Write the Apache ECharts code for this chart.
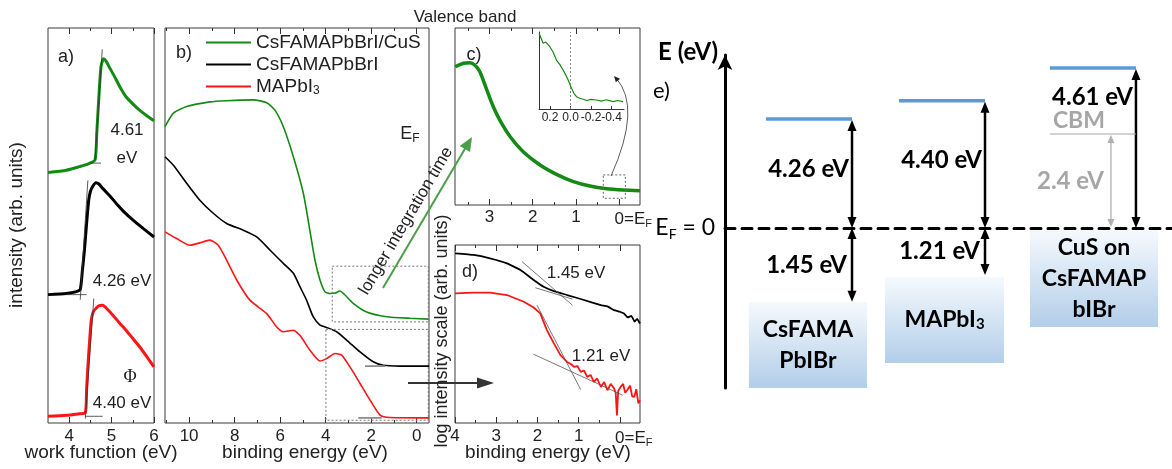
<!DOCTYPE html>
<html><head><meta charset="utf-8">
<script src="https://cdn.jsdelivr.net/npm/echarts@6/dist/echarts.min.js"></script>
<style>html,body{margin:0;padding:0;background:#fff}#c{width:1172px;height:469px}</style>
</head><body><div id="c"></div><script>
// ================= DATA =================
// a) work-function cutoff: [work function (eV), intensity (arb.)]
const wfCuS = [[3.50,63.4],[3.93,64.0],[4.24,64.9],[4.45,65.6],[4.61,66.6],[4.65,73.3],[4.70,82.6],[4.75,90.2],[4.81,92.2],[4.87,91.6],[4.95,90.0],[5.07,87.7],[5.20,85.0],[5.34,82.6],[5.50,80.8],[5.66,79.2],[5.83,77.8],[6.00,76.5]];
const wfMix = [[3.50,32.5],[3.93,32.8],[4.15,33.2],[4.26,33.8],[4.31,38.5],[4.36,43.8],[4.41,50.5],[4.46,56.4],[4.50,58.6],[4.55,59.8],[4.63,60.8],[4.70,60.5],[4.79,59.4],[4.95,57.6],[5.11,55.6],[5.30,53.4],[5.50,51.4],[5.75,49.2],[6.00,47.1]];
const wfMAPbI = [[3.50,1.7],[3.93,1.95],[4.20,2.3],[4.38,2.6],[4.41,8.5],[4.44,14.2],[4.48,20.5],[4.52,26.0],[4.57,28.2],[4.63,29.0],[4.71,29.7],[4.79,29.8],[4.90,28.8],[5.03,27.3],[5.18,25.4],[5.34,23.5],[5.50,21.4],[5.66,19.3],[5.83,16.8],[6.00,14.2]];
const wfTangents = [
  [[4.61,66.6],[4.78,94.6]], [[4.50,65.8],[4.75,65.8]],
  [[4.26,31.2],[4.44,61.4]], [[3.93,32.5],[4.41,32.5]],
  [[4.38,1.1],[4.58,31.5]],  [[4.38,1.7],[4.79,1.7]]
];
const wfTicks = [4,5,6], wfMinor = [4.5,5.5];
const wfLabels = ['4.61\neV','4.26 eV','Φ','4.40 eV'];

// b) valence band: [binding energy (eV), intensity (arb.)]
const vbCuS = [[11.06,75.0],[10.70,78.4],[10.11,80.1],[9.09,81.3],[8.35,81.6],[7.18,81.8],[6.59,81.1],[6.23,79.2],[5.86,75.0],[5.42,67.4],[4.98,58.1],[4.69,48.6],[4.47,41.2],[4.25,36.2],[4.03,33.2],[3.81,32.8],[3.59,32.9],[3.37,33.4],[3.15,32.4],[2.79,30.3],[2.20,28.1],[1.32,26.9],[0.29,26.5],[-0.54,26.3]];
const vbMix = [[11.06,67.4],[10.70,65.3],[10.11,60.7],[9.53,56.4],[8.94,53.1],[8.35,50.5],[7.62,48.8],[7.03,47.1],[6.45,43.8],[5.86,40.4],[5.42,37.9],[5.13,34.5],[4.84,31.1],[4.55,26.9],[4.25,24.8],[3.96,24.2],[3.52,23.1],[3.08,21.0],[2.49,18.0],[1.91,15.5],[1.47,14.6],[0.73,14.4],[-0.54,14.4]];
const vbMAPbI = [[11.06,48.4],[10.55,46.7],[9.97,45.0],[9.53,45.6],[9.09,46.3],[8.72,45.0],[8.35,41.2],[7.91,36.2],[7.33,31.1],[6.59,27.7],[6.15,24.3],[5.86,23.1],[5.42,23.5],[5.13,22.2],[4.69,18.4],[4.25,15.7],[3.96,16.3],[3.59,17.6],[3.30,17.2],[2.93,14.2],[2.49,10.0],[2.05,5.8],[1.61,2.0],[1.17,1.4],[-0.54,1.3]];
const vbZoomBoxCuS = [[3.71,39.7],[-0.51,39.7],[-0.51,25.6],[3.71,25.6],[3.71,39.7]];
const vbZoomBoxLog = [[3.99,23.7],[-0.51,23.7],[-0.51,0.7],[3.99,0.7],[3.99,23.7]];
const vbBaselines = [[[2.27,14.4],[1.39,14.4]], [[2.57,1.3],[1.54,1.3]]];
const vbTicks = [0,2,4,6,8,10], vbMinor = [1,3,5,7,9,11];
const seriesNames = ['CsFAMAPbBrI/CuS','CsFAMAPbBrI','MAPbI3'];

// c) valence band edge of CuS, longer integration
const vbCuSLong = [[3.79,78.1],[3.60,80.1],[3.45,80.4],[3.34,79.1],[3.22,75.3],[3.06,65.0],[2.91,55.5],[2.76,48.0],[2.52,38.6],[2.22,30.1],[1.83,22.6],[1.45,17.3],[1.06,13.2],[0.68,10.7],[0.29,9.2],[-0.09,8.5],[-0.48,8.1]];
const fermiEdge = [[0.306,98.3],[0.267,85.3],[0.240,87.0],[0.202,80.9],[0.170,74.0],[0.137,63.6],[0.105,58.0],[0.072,50.6],[0.045,44.0],[0.023,37.7],[-0.010,26.9],[-0.035,20.0],[-0.059,16.0],[-0.090,14.0],[-0.123,12.6],[-0.160,11.0],[-0.200,12.5],[-0.254,11.7],[-0.300,10.2],[-0.350,12.0],[-0.416,9.5],[-0.460,11.0],[-0.513,9.5]];
const cZoomBox = [[0.37,17],[-0.14,17],[-0.14,3.8],[0.37,3.8],[0.37,17]];
const cTicks = [0,1,2,3], cMinor = [0.5,1.5,2.5,3.5];
const insetTicks = [0.2,0,-0.2,-0.4];

// d) log-scale valence band onset
const logMix = [[4.00,95.3],[3.55,94.4],[3.15,92.5],[2.74,89.7],[2.41,85.9],[2.09,80.3],[1.85,76.5],[1.60,74.1],[1.28,71.9],[0.87,69.1],[0.46,66.2],[0.30,65.5],[0.14,63.4],[0.00,62.5],[-0.10,61.5],[-0.19,59.3],[-0.28,60.2],[-0.36,57.0],[-0.42,58.5],[-0.49,55.9]];
const logMAPbI = [[4.00,72.8],[3.55,73.2],[3.15,73.2],[2.74,71.9],[2.33,68.1],[2.09,64.9],[1.93,61.6],[1.77,52.2],[1.60,44.7],[1.44,38.1],[1.28,34.3],[1.18,33.0],[1.11,31.5],[1.03,32.0],[0.95,28.7],[0.87,29.5],[0.79,25.9],[0.71,27.0],[0.63,23.1],[0.55,25.0],[0.46,20.3],[0.38,23.0],[0.30,18.4],[0.22,22.0],[0.14,19.4],[0.10,17.0],[0.07,4.3],[0.04,18.0],[-0.02,20.3],[-0.08,22.0],[-0.13,17.0],[-0.19,18.8],[-0.25,21.0],[-0.30,15.0],[-0.35,14.6],[-0.40,19.0],[-0.45,11.0],[-0.49,12.8]];
const logTangents = [
  [[2.37,90.6],[1.15,66.2]], [[2.05,76.0],[1.15,69.6]],
  [[2.01,66.2],[0.95,18.8]], [[2.10,38.7],[-0.07,15.6]]
];
const dTicks = [0,1,2,3,4], dMinor = [0.5,1.5,2.5,3.5];
const vbmLabels = ['1.45 eV','1.21 eV'];

// e) energy diagram
const eMaterials = ['CsFAMA\nPbIBr','MAPbI3','CuS on\nCsFAMAP\nbIBr'];
const eWorkFunction = [4.26, 4.40, 4.61];
const eVBM = [1.45, 1.21, null];
const eCuSGap = 2.4;
// schematic (not-to-scale) drawing heights used in the diagram
const eLevelDraw = [4.36, 5.09, 6.40];
const eVbmDraw = [-2.95, -1.88, null];
const eCbmDraw = 3.76;
const eBoxDraw = [[-2.96,-6.4],[-1.96,-5.4],[-0.08,-3.96]];
const eColX = [0.955, 1.955, 3.090];
const eBoxX = [[0.180,1.068],[1.203,2.098],[2.293,3.256]];
const eGapArrowX = 2.902;

// ================= CHART =================
const FONT = 'Liberation Sans';
const FONTCSS = '"Liberation Sans", Arial, sans-serif';
const EFONT = 'Lato, "Open Sans", sans-serif';
const GREEN = '#138a13', RED = '#ff1414', BLACK = '#000';

const grids = [
  {left:48, top:28, width:106, height:395},   // a
  {left:165, top:28, width:264, height:395},  // b
  {left:455, top:28, width:185, height:177},  // c
  {left:539, top:32, width:85, height:77},    // inset
  {left:455, top:245, width:185, height:178}, // d
  {left:725, top:55, width:447, height:333}   // e
].map((g, i) => Object.assign({show: i !== 3 && i !== 5, borderColor:'#3a3a3a', borderWidth:1, backgroundColor:'transparent', outerBoundsMode:'none', containLabel:false}, g));

const xAxes = [];
const subRich = {
  h:{color:'rgba(0,0,0,0)', fontSize:17, fontFamily:FONT, lineHeight:20, verticalAlign:'middle'},
  hs:{color:'rgba(0,0,0,0)', fontSize:11, fontFamily:FONT, lineHeight:20, verticalAlign:'bottom'},
  e:{color:'#222', fontSize:17, fontFamily:FONT, lineHeight:20, verticalAlign:'middle'},
  s:{color:'#222', fontSize:11, fontFamily:FONT, lineHeight:20, verticalAlign:'bottom'}
};
function addX(gi, min, max, inverse, majors, minors, fmt, margin) {
  const idx = xAxes.length;
  const base = {type:'value', gridIndex:gi, min, max, inverse, splitLine:{show:false}, axisLine:{show:false}, axisPointer:{show:false}};
  const tk = (vals, len) => ({show:true, inside:true, length:len, customValues:vals, lineStyle:{color:'#333', width:1}});
  xAxes.push(Object.assign({}, base, {position:'bottom', axisTick:tk(majors,6),
    axisLabel:{show:true, customValues:majors, formatter:fmt, margin, color:'#222', fontSize:17, fontFamily:FONT, rich:subRich}}));
  xAxes.push(Object.assign({}, base, {position:'bottom', axisTick:tk(minors,3), axisLabel:{show:false}}));
  xAxes.push(Object.assign({}, base, {position:'top', axisTick:tk(majors,6), axisLabel:{show:false}}));
  xAxes.push(Object.assign({}, base, {position:'top', axisTick:tk(minors,3), axisLabel:{show:false}}));
  return idx;
}
const efFmt = v => (v === 0 ? '{h|=E}{hs|F}{e|0=E}{s|F}' : String(v));
const xa = addX(0, 3.5, 6.0, false, wfTicks, wfMinor, v => String(v), 5);
const xb = addX(1, -0.54, 11.06, true, vbTicks, vbMinor, v => String(v), 5);
const xc = addX(2, -0.478, 3.795, true, cTicks, cMinor, efFmt, 4);
const xd = addX(4, -0.49, 4.0, true, dTicks, dMinor, efFmt, 5);
const xi = xAxes.length;
xAxes.push({type:'value', gridIndex:3, min:-0.522, max:0.307, inverse:true, splitLine:{show:false},
  axisLine:{show:true, onZero:false, lineStyle:{color:'#333', width:1}},
  axisTick:{show:true, inside:true, length:3, customValues:insetTicks, lineStyle:{color:'#333'}},
  axisLabel:{show:true, customValues:insetTicks, formatter:v => v.toFixed(1), margin:3, fontSize:12, color:'#222', fontFamily:FONT}});
const xe = xAxes.length;
xAxes.push({type:'value', gridIndex:5, min:0, max:3.361, splitLine:{show:false},
  axisLine:{show:true, onZero:true, lineStyle:{color:'#000', width:3, type:[10,7]}},
  axisTick:{show:false}, axisLabel:{show:false}});

const yAxes = [0,1,2,3,4].map(gi => ({type:'value', gridIndex:gi, min:0, max:100, show: gi === 3,
  splitLine:{show:false}, axisTick:{show:false}, axisLabel:{show:false},
  axisLine:{show: gi === 3, onZero:false, lineStyle:{color:'#333', width:1}}}));
yAxes.push({type:'value', gridIndex:5, min:-6.4, max:6.92, splitLine:{show:false}, axisTick:{show:false}, axisLabel:{show:false},
  axisLine:{show:true, onZero:true, symbol:['none','arrow'], symbolSize:[11,15], lineStyle:{color:'#000', width:3}}});

const series = [];
function line(name, data, xi_, yi, color, width, extra) {
  series.push(Object.assign({type:'line', name, data, xAxisIndex:xi_, yAxisIndex:yi, symbol:'none', smooth:0.2,
    lineStyle:{color, width}, itemStyle:{color}, silent:true, z:3}, extra || {}));
}
// a
line('a-CuS', wfCuS, xa, 0, GREEN, 3);
line('a-Mix', wfMix, xa, 0, BLACK, 3);
line('a-MAPbI', wfMAPbI, xa, 0, RED, 3);
wfTangents.forEach((t, k) => line('a-t'+k, t, xa, 0, '#333', 0.8, {smooth:false, z:4}));
// b
line(seriesNames[0], vbCuS, xb, 1, GREEN, 1.6);
line(seriesNames[1], vbMix, xb, 1, BLACK, 1.6);
line(seriesNames[2], vbMAPbI, xb, 1, RED, 1.6);
line('b-box1', vbZoomBoxCuS, xb, 1, '#777', 1, {smooth:false, lineStyle:{color:'#777', width:1, type:[2,2]}});
line('b-box2', vbZoomBoxLog, xb, 1, '#777', 1, {smooth:false, lineStyle:{color:'#777', width:1, type:[2,2]}});
vbBaselines.forEach((t, k) => line('b-bl'+k, t, xb, 1, '#8a8a8a', 1.6, {smooth:false}));
// c
line('c-CuS', vbCuSLong, xc, 2, GREEN, 3.5);
line('c-box', cZoomBox, xc, 2, '#666', 1, {smooth:false, lineStyle:{color:'#666', width:1, type:[2,2]}});
line('inset', fermiEdge, xi, 3, GREEN, 1.2, {smooth:false,
  markLine:{silent:true, symbol:'none', label:{show:false}, lineStyle:{color:'#888', type:[2,2], width:1}, data:[{xAxis:0}]}});
// d
line('d-Mix', logMix, xd, 4, BLACK, 1.8, {smooth:0.1});
line('d-MAPbI', logMAPbI, xd, 4, RED, 1.8, {smooth:false});
logTangents.forEach((t, k) => line('d-t'+k, t, xd, 4, '#555', 0.8, {smooth:false, z:4}));

// e: energy diagram via custom series
function dblArrow(ch, x, y1, y2, color, lw, hl, hw) {
  ch.push({type:'line', shape:{x1:x, y1:y1+hl*0.8, x2:x, y2:y2-hl*0.8}, style:{stroke:color, lineWidth:lw}});
  ch.push({type:'polygon', shape:{points:[[x,y1],[x-hw,y1+hl],[x+hw,y1+hl]]}, style:{fill:color}});
  ch.push({type:'polygon', shape:{points:[[x,y2],[x-hw,y2-hl],[x+hw,y2-hl]]}, style:{fill:color}});
}
const eRich = {
  b:{font:'bold 23px ' + EFONT, fill:'#000'},
  s:{font:'bold 15px ' + EFONT, fill:'#000', verticalAlign:'bottom'}
};
function tx(text, x, y, align, fill, rich, size) {
  return {type:'text', style:{text, x, y, align, verticalAlign:'middle', font:'bold ' + (size || 23) + 'px ' + EFONT, fill, rich}};
}
function renderE(params, api) {
  const i = params.dataIndex;
  const ch = [];
  const P = (x, y) => api.coord([x, y]);
  const p0 = P(eBoxX[i][0], eBoxDraw[i][0]), p1 = P(eBoxX[i][1], eBoxDraw[i][1]);
  ch.push({type:'rect', shape:{x:p0[0], y:p0[1], width:p1[0]-p0[0], height:p1[1]-p0[1]},
    style:{fill:new echarts.graphic.LinearGradient(0,0,0,1,[{offset:0,color:'#f5f9fd'},{offset:1,color:'#b2cee9'}])}});
  const lines = eMaterials[i].split('\n');
  const cx = (p0[0]+p1[0])/2, cy = (p0[1]+p1[1])/2;
  lines.forEach((ln, k) => {
    const yy = cy + (k - (lines.length-1)/2) * 31;
    const m = ln.match(/^(.*?)(\d)$/);
    const t = m ? '{b|' + m[1] + '}{s|' + m[2] + '}' : '{b|' + ln + '}';
    ch.push(tx(t, cx, yy, 'center', '#000', eRich));
  });
  const ax = eColX[i];
  const lt = P(ax - 0.647, eLevelDraw[i]), rt = P(ax, eLevelDraw[i]);
  const z = P(ax, 0);
  ch.push({type:'line', shape:{x1:lt[0], y1:rt[1], x2:rt[0], y2:rt[1]}, style:{stroke:'#5b9bd5', lineWidth:3.5}});
  dblArrow(ch, rt[0], rt[1]+1, z[1], '#000', 2.5, 11, 4.5);
  const wfY = i === 2 ? rt[1] + 29 : (rt[1] + z[1]) / 2 - 4;
  ch.push(tx(eWorkFunction[i].toFixed(2) + ' eV', rt[0] - 3, wfY, 'right', '#000', null, 24));
  if (eVBM[i] != null) {
    const v = P(ax, eVbmDraw[i]);
    dblArrow(ch, v[0], z[1], v[1], '#000', 2.5, 11, 4.5);
    ch.push(tx(eVBM[i].toFixed(2) + ' eV', v[0] - 5, (z[1] + v[1]) / 2, 'right', '#000', null, 24));
  }
  if (i === 2) {
    const c = P(ax, eCbmDraw);
    ch.push({type:'line', shape:{x1:lt[0], y1:c[1], x2:rt[0], y2:c[1]}, style:{stroke:'#a6a6a6', lineWidth:1}});
    const g = P(eGapArrowX, 0);
    dblArrow(ch, g[0], c[1]+1, g[1]-1, '#b0b0b0', 1.3, 8, 3.5);
    ch.push({type:'text', style:{text:'CBM', x:lt[0]+3, y:c[1]-13, align:'left', verticalAlign:'middle', font:'bold 23px ' + EFONT, fill:'#a6a6a6'}});
    ch.push({type:'text', style:{text:eCuSGap.toFixed(1) + ' eV', x:g[0]-7, y:(c[1]+g[1])/2, align:'right', verticalAlign:'middle', font:'bold 24px ' + EFONT, fill:'#a6a6a6'}});
  }
  return {type:'group', children:ch};
}
series.push({type:'custom', name:'e', coordinateSystem:'cartesian2d', xAxisIndex:xe, yAxisIndex:5, silent:true, clip:false,
  data: eColX.map((x, i) => [x, eWorkFunction[i]]), renderItem: renderE, z:5});

// annotations
function T(text, x, y, o) {
  o = o || {};
  return {type:'text', x, y, rotation:o.rot || 0, z:100, silent:true,
    style:{text, x:0, y:0, fill:o.fill || '#222', font:o.font || ('17px ' + FONTCSS), align:o.align || 'center', verticalAlign:'middle', rich:o.rich, lineHeight:o.lh}};
}
const efRichG = {e:{font:'18px ' + FONTCSS, fill:'#222', verticalAlign:'middle', lineHeight:22}, s:{font:'12px ' + FONTCSS, fill:'#222', verticalAlign:'bottom', lineHeight:22}};
const efRichE = {e:{font:'23px ' + EFONT, fill:'#000', verticalAlign:'middle', lineHeight:26}, s:{font:'14px ' + EFONT, fill:'#000', verticalAlign:'bottom', lineHeight:24}};
function arrowHead(x1, y1, x2, y2, len, hw, color) {
  const dx = x2 - x1, dy = y2 - y1, L = Math.hypot(dx, dy), ux = dx / L, uy = dy / L;
  const bx = x2 - ux * len, by = y2 - uy * len;
  return {type:'polygon', z:100, silent:true, shape:{points:[[x2,y2],[bx - uy*hw, by + ux*hw],[bx + uy*hw, by - ux*hw]]}, style:{fill:color}};
}
const graphics = [
  T('Valence band', 465, 17),
  T('a)', 66, 57, {font:'18px ' + FONTCSS}),
  T(wfLabels[0], 127, 144, {lh:28}),
  T(wfLabels[1], 122, 281),
  T(wfLabels[2], 130, 377, {font:'18px "Liberation Serif", serif'}),
  T(wfLabels[3], 122, 403),
  T('b)', 184, 53, {font:'18px ' + FONTCSS}),
  T('{e|E}{s|F}', 410, 134, {rich:efRichG}),
  T('longer integration time', 406, 221, {rot:1.037, font:'17px ' + FONTCSS}),
  T('c)', 474, 55, {font:'18px ' + FONTCSS}),
  T('d)', 470, 272, {font:'18px ' + FONTCSS}),
  T(vbmLabels[0], 576, 273),
  T(vbmLabels[1], 601, 356),
  T('intensity (arb. units)', 17, 225, {rot:Math.PI/2, font:'19px ' + FONTCSS}),
  T('work function (eV)', 101, 453, {font:'19px ' + FONTCSS}),
  T('binding energy (eV)', 305, 453, {font:'19px ' + FONTCSS}),
  T('binding energy (eV)', 548, 453, {font:'19px ' + FONTCSS}),
  T('log intensity scale (arb. units)', 442, 331, {rot:Math.PI/2, font:'18px ' + FONTCSS}),
  T('E (eV)', 718, 52, {align:'right', font:'bold 24px ' + EFONT, fill:'#000'}),
  T('e)', 653, 91, {align:'left', font:'22px ' + EFONT, fill:'#000'}),
  T('{e|E}{s|F}{e| = 0}', 715, 228, {align:'right', rich:efRichE}),
  // green "longer integration time" arrow
  {type:'line', z:99, silent:true, shape:{x1:383, y1:288, x2:466, y2:147}, style:{stroke:'#4a9f4a', lineWidth:2}},
  arrowHead(383, 288, 472, 137, 14, 6, '#4a9f4a'),
  // black arrow from b) to d)
  {type:'line', z:99, silent:true, shape:{x1:408, y1:383, x2:480, y2:383}, style:{stroke:'#333', lineWidth:2}},
  arrowHead(408, 383, 494, 383, 17, 5.5, '#333'),
  // curved arrow in c)
  {type:'bezierCurve', z:99, silent:true, shape:{x1:611, y1:176, x2:616, y2:78, cpx1:642, cpy1:107}, style:{stroke:'#333', lineWidth:0.8, fill:null}},
  arrowHead(628, 92, 614, 76, 6, 2.8, '#222')
];

const chart = echarts.init(document.getElementById('c'), null, {renderer:'canvas'});
chart.setOption({
  animation:false,
  backgroundColor:'#fff',
  grid:grids,
  xAxis:xAxes,
  yAxis:yAxes,
  legend:{data:seriesNames, orient:'vertical', left:206, top:33, padding:0, itemWidth:45, itemHeight:12, itemGap:3,
    icon:'path://M0,5 L45,5 L45,7 L0,7 Z',
    formatter: n => n === 'MAPbI3' ? '{n|MAPbI}{s|3}' : '{n|' + n + '}',
    textStyle:{fontSize:19, fontFamily:FONT, color:'#222', rich:{n:{fontSize:19, fontFamily:FONT, color:'#222', lineHeight:20, verticalAlign:'middle'}, s:{fontSize:12, fontFamily:FONT, color:'#222', lineHeight:20, verticalAlign:'bottom'}}}},
  series,
  graphic:{elements:graphics}
});
</script></body></html>
